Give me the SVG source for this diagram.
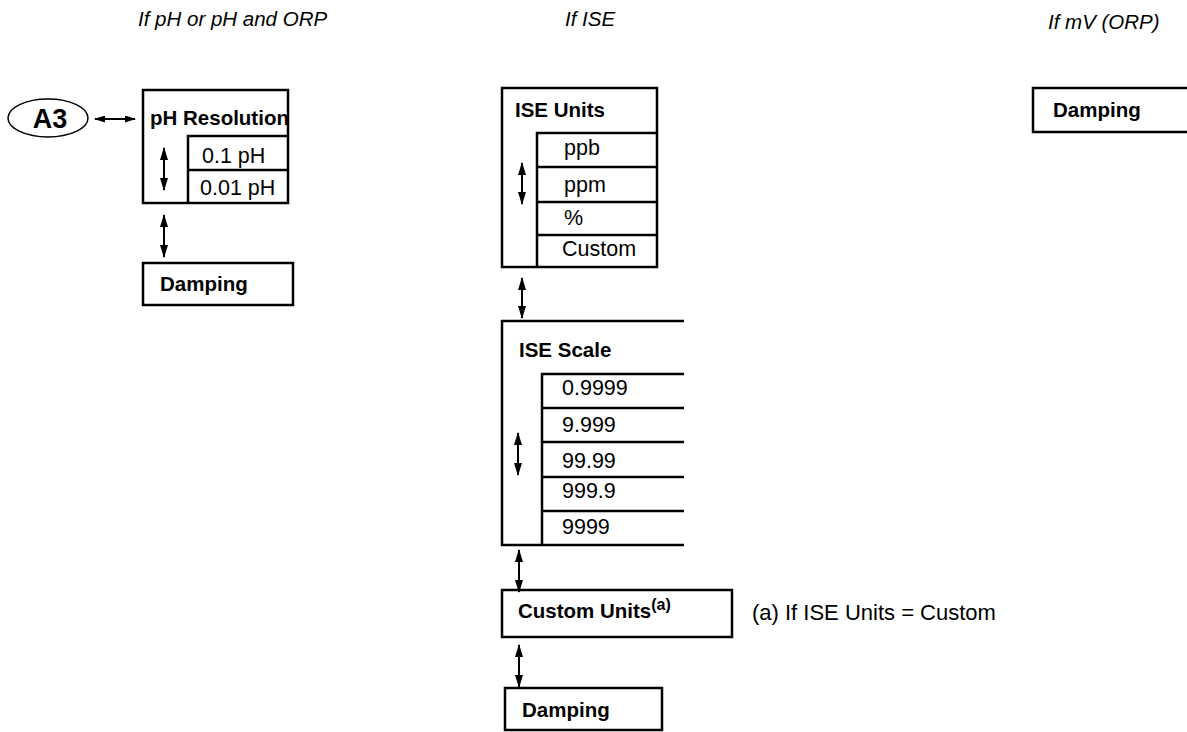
<svg xmlns="http://www.w3.org/2000/svg" width="1187" height="732" viewBox="0 0 1187 732">
<style>
.box{fill:#fff;stroke:#000;stroke-width:2.5}
.ln{fill:none;stroke:#000;stroke-width:2.5}
.b{font-family:"Liberation Sans",Arial,sans-serif;font-weight:bold;font-size:20.5px;fill:#000}
.r{font-family:"Liberation Sans",Arial,sans-serif;font-size:21.5px;fill:#000}
.t{font-family:"Liberation Sans",Arial,sans-serif;font-style:italic;font-size:20.5px;fill:#000}
.arr{fill:none;stroke:#000;stroke-width:2;marker-start:url(#ah);marker-end:url(#ah)}
.arrs{fill:none;stroke:#000;stroke-width:2;marker-start:url(#ahs);marker-end:url(#ahs)}
</style>
<defs>
<marker id="ah" markerUnits="userSpaceOnUse" markerWidth="13" markerHeight="8" refX="12" refY="4" orient="auto-start-reverse" viewBox="0 0 13 8"><path d="M0,0 L13,4 L0,8 z" fill="#000"/></marker>
<marker id="ahs" markerUnits="userSpaceOnUse" markerWidth="11" markerHeight="7" refX="10" refY="3.5" orient="auto-start-reverse" viewBox="0 0 11 7"><path d="M0,0 L11,3.5 L0,7 z" fill="#000"/></marker>
</defs>
<rect width="1187" height="732" fill="#fff"/>
<g id="titles">
<text class="t" x="138" y="26">If pH or pH and ORP</text>
<text class="t" x="565" y="26">If ISE</text>
<text class="t" x="1048" y="29">If mV (ORP)</text>
</g>
<g id="a3">
<ellipse cx="48" cy="118" rx="40" ry="19" fill="#fff" stroke="#000" stroke-width="1.5"/>
<text class="b" x="50" y="128" text-anchor="middle" style="font-size:27px">A3</text>
</g>
<g id="ph-resolution">
<rect class="box" x="143" y="90" width="145" height="113"/>
<polyline class="ln" points="288,136 188,136 188,203"/>
<line class="ln" x1="188" y1="170" x2="288" y2="170"/>
<text class="b" x="150" y="125">pH Resolution</text>
<text class="r" x="202" y="163">0.1 pH</text>
<text class="r" x="200" y="195">0.01 pH</text>
</g>
<g id="ph-damping">
<rect class="box" x="143" y="263" width="150" height="42"/>
<text class="b" x="160" y="291">Damping</text>
</g>
<g id="ise-units">
<rect class="box" x="502" y="88" width="155" height="179"/>
<polyline class="ln" points="657,133 537,133 537,267"/>
<line class="ln" x1="537" y1="167" x2="657" y2="167"/>
<line class="ln" x1="537" y1="202" x2="657" y2="202"/>
<line class="ln" x1="537" y1="235" x2="657" y2="235"/>
<text class="b" x="515" y="117">ISE Units</text>
<text class="r" x="564" y="155">ppb</text>
<text class="r" x="564" y="192">ppm</text>
<text class="r" x="564" y="225">%</text>
<text class="r" x="562" y="256">Custom</text>
</g>
<g id="ise-scale">
<polyline class="ln" points="684,321 502,321 502,545 684,545"/>
<polyline class="ln" points="684,374 542,374 542,545"/>
<line class="ln" x1="542" y1="408" x2="684" y2="408"/>
<line class="ln" x1="542" y1="442" x2="684" y2="442"/>
<line class="ln" x1="542" y1="477" x2="684" y2="477"/>
<line class="ln" x1="542" y1="511" x2="684" y2="511"/>
<text class="b" x="519" y="357">ISE Scale</text>
<text class="r" x="562" y="395">0.9999</text>
<text class="r" x="562" y="432">9.999</text>
<text class="r" x="562" y="468">99.99</text>
<text class="r" x="562" y="498">999.9</text>
<text class="r" x="562" y="534">9999</text>
</g>
<g id="custom-units">
<rect class="box" x="502" y="590" width="230" height="47"/>
<text class="b" x="518" y="618">Custom Units<tspan dy="-8" style="font-size:16px">(a)</tspan></text>
</g>
<g id="footnote">
<text class="r" x="752" y="620" style="font-size:22px">(a) If ISE Units = Custom</text>
</g>
<g id="ise-damping">
<rect class="box" x="505" y="688" width="157" height="42"/>
<text class="b" x="522" y="717">Damping</text>
</g>
<g id="mv-damping">
<rect class="box" x="1033" y="88" width="170" height="44"/>
<text class="b" x="1053" y="117">Damping</text>
</g>
<g id="connectors">
<line class="arrs" x1="95" y1="119" x2="135" y2="119"/>
<line class="arr" x1="164" y1="148" x2="164" y2="190"/>
<line class="arr" x1="164" y1="215" x2="164" y2="257"/>
<line class="arr" x1="522" y1="163" x2="522" y2="204"/>
<line class="arr" x1="522" y1="278" x2="522" y2="318"/>
<line class="arr" x1="518" y1="433" x2="518" y2="475"/>
<line class="arr" x1="519" y1="550" x2="519" y2="592"/>
<line class="arr" x1="519" y1="645" x2="519" y2="687"/>
</g>
</svg>
